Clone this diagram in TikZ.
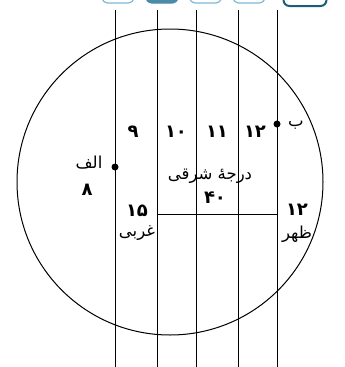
\documentclass[tikz,border=0pt]{standalone}
\usepackage{fontspec}
\newfontfamily\arabicfont[Script=Arabic]{DejaVu Sans}
\TeXXeTstate=1
\definecolor{tabline}{HTML}{7DB9D3}
\definecolor{tabfill}{HTML}{4A8BA9}
\definecolor{tabdark}{HTML}{1B5E7A}

\begin{document}
\begin{tikzpicture}[x=1pt,y=-1pt,
  word/.style={font=\arabicfont\fontsize{16.5}{18}\selectfont, inner sep=1pt},
  num/.style={font=\arabicfont\bfseries\fontsize{18}{20}\selectfont, inner sep=1pt},
  dot/.style={circle, fill, inner sep=0pt, minimum size=7pt},
  tab/.style={draw=tabline, line width=1.2pt, rounded corners=6pt, fill=white,
    minimum width=32pt, minimum height=24pt, inner sep=0pt}]
\useasboundingbox (0,0) rectangle (345,367);
\clip (0,0) rectangle (345,367);

% Tabs along the top (cut off by the edge)
\node[tab] (T1) at (118,-9) {};
\node[tab, fill=tabfill, draw=tabfill] (T2) at (162,-9) {};
\node[tab] (T3) at (205.5,-9) {};
\node[tab] (T4) at (249,-9) {};
\node[tab, draw=tabdark, line width=2pt, minimum width=43pt] (T5) at (305,-6) {};

% Globe
\node[draw, circle, line width=1pt, minimum size=306pt, inner sep=0pt] (G) at (170,182) {};

% Meridians (top and bottom ends)
\coordinate (M1t) at (115,10);  \coordinate (M1b) at (115,367);
\coordinate (M2t) at (157,10);  \coordinate (M2b) at (157,367);
\coordinate (M3t) at (196,10);  \coordinate (M3b) at (196,367);
\coordinate (M4t) at (238,10);  \coordinate (M4b) at (238,367);
\coordinate (M5t) at (277,10);  \coordinate (M5b) at (277,367);
\draw[line width=0.9pt] (M1t) -- (M1b);
\draw[line width=0.9pt] (M2t) -- (M2b);
\draw[line width=0.9pt] (M3t) -- (M3b);
\draw[line width=0.9pt] (M4t) -- (M4b);
\draw[line width=0.9pt] (M5t) -- (M5b);

% Offset line between the meridians
\coordinate (H1) at (157,214);
\coordinate (H2) at (277,214);
\draw[line width=0.9pt] (H1) -- (H2);

% Points A and B
\node[dot] (A) at (115,167) {};
\node[dot] (B) at (277,124) {};
\node[word] (Alab) at (89,163) {\beginR الف\endR};
\node[num] (Anum) at (87,190) {۸};
\node[word] (Blab) at (296,125) {\beginR ب\endR};

% Hour numbers
\node[num] (H9) at (133,132) {۹};
\node[num] (H10) at (176,132) {۱۰};
\node[num] (H11) at (217,132) {۱۱};
\node[num] (H12) at (255,132) {۱۲};

% Middle labels
\node[word] (East) at (210,176) {\beginR درجهٔ شرقی\endR};
\node[num] (Deg) at (215,198) {۴۰};
\node[num] (W15) at (137,211) {۱۵};
\node[word] (West) at (137,233) {\beginR غربی\endR};
\node[num] (N12) at (297,210) {۱۲};
\node[word] (Noon) at (297,234) {\beginR ظهر\endR};
\end{tikzpicture}
\end{document}
